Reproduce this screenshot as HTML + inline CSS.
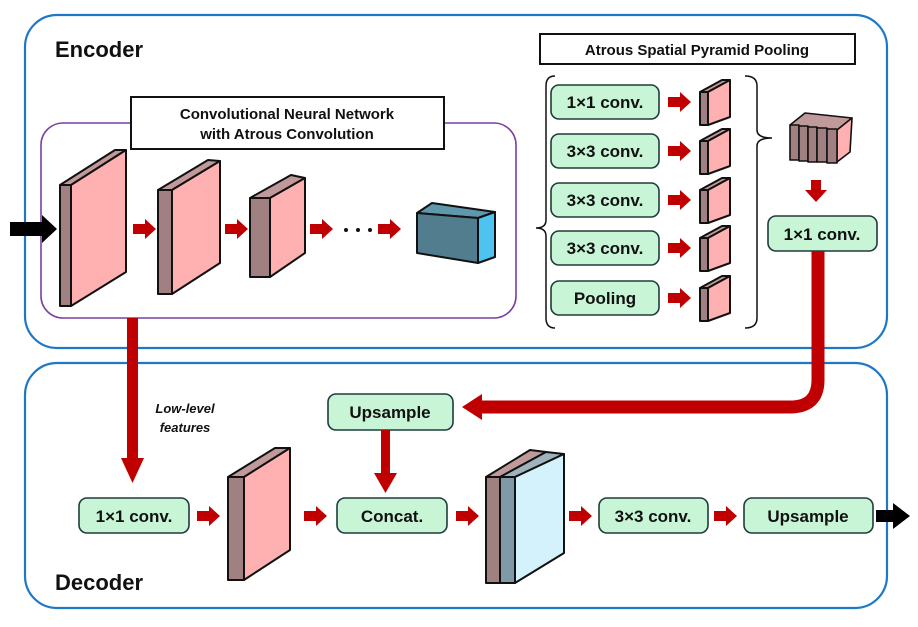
<!DOCTYPE html>
<html><head><meta charset="utf-8"><style>
html,body{margin:0;padding:0;background:#fff;}
svg{display:block;}
text{font-family:"Liberation Sans",sans-serif;font-weight:bold;fill:#111;}
</style></head><body>
<svg width="918" height="627" viewBox="0 0 918 627" xmlns="http://www.w3.org/2000/svg">
<defs>
<g id="ra"><polygon points="0,-5 12,-5 12,-10 23,0 12,10 12,5 0,5" fill="#c00000"/></g>
<g id="da"><polygon points="-5,0 5,0 5,10 11,10 0,22 -11,10 -5,10" fill="#c00000"/></g>
<g id="sm" stroke="#111" stroke-width="2" stroke-linejoin="round">
<polygon points="0,12 8,12 8,45 0,45" fill="#a08080"/>
<polygon points="0,12 22,0 30,0 8,12" fill="#c09a9a"/>
<polygon points="8,12 30,0 30,37 8,45" fill="#ffb0b0"/>
</g>
</defs>
<rect x="25" y="15" width="862" height="333" rx="32" fill="none" stroke="#1e78c8" stroke-width="2.2"/>
<rect x="25" y="363" width="862" height="245" rx="32" fill="none" stroke="#1e78c8" stroke-width="2.2"/>
<text x="55" y="57" font-size="22">Encoder</text>
<text x="55" y="590" font-size="22">Decoder</text>

<rect x="41" y="123" width="475" height="195" rx="22" fill="none" stroke="#7a3fa0" stroke-width="1.6"/>
<rect x="131" y="97" width="313" height="52" fill="#fff" stroke="#111" stroke-width="2"/>
<text x="287" y="119" font-size="15" text-anchor="middle">Convolutional Neural Network</text>
<text x="287" y="139" font-size="15" text-anchor="middle">with Atrous Convolution</text>

<g stroke="#111" stroke-width="2" stroke-linejoin="round">
<polygon points="60,185 71,185 71,306 60,306" fill="#a08080"/>
<polygon points="60,185 115,150 126,150 71,185" fill="#c09a9a"/>
<polygon points="71,185 126,150 126,272 71,306" fill="#ffb0b0"/>
<polygon points="158,190 172,190 172,294 158,294" fill="#a08080"/>
<polygon points="158,190 208,160 220,161 172,190" fill="#c09a9a"/>
<polygon points="172,190 220,161 220,263 172,294" fill="#ffb0b0"/>
<polygon points="250,198 270,198 270,277 250,277" fill="#a08080"/>
<polygon points="250,198 291,175 305,178 270,198" fill="#c09a9a"/>
<polygon points="270,198 305,178 305,253 270,277" fill="#ffb0b0"/>
<polygon points="417,213 432,203 495,212 478,218" fill="#5f97ad"/>
<polygon points="417,213 478,218 478,263 417,253" fill="#527d8f"/>
<polygon points="478,218 495,212 495,257 478,263" fill="#4fc3f0"/>
</g>
<polygon points="10,222 42,222 42,215 57,229 42,243 42,236 10,236" fill="#000"/>
<use href="#ra" x="133" y="229"/><use href="#ra" x="225" y="229"/><use href="#ra" x="310" y="229"/><use href="#ra" x="378" y="229"/>
<circle cx="346" cy="230" r="2" fill="#111"/><circle cx="358" cy="230" r="2" fill="#111"/><circle cx="370" cy="230" r="2" fill="#111"/>

<rect x="540" y="34" width="315" height="30" fill="#fff" stroke="#111" stroke-width="2"/>
<text x="697" y="55" font-size="15" text-anchor="middle">Atrous Spatial Pyramid Pooling</text>
<path d="M555,76 Q546,76 546,86 L546,220 Q546,228 536,228 Q546,228 546,236 L546,318 Q546,328 555,328" fill="none" stroke="#111" stroke-width="1.5"/>
<path d="M745,76 Q757,76 757,86 L757,130 Q757,138 772,138 Q757,138 757,146 L757,318 Q757,328 745,328" fill="none" stroke="#111" stroke-width="1.5"/>
<g stroke="#1f3b3b" stroke-width="1.6" fill="#c8f5d6">
<rect x="551" y="85" width="108" height="34" rx="8"/>
<rect x="551" y="134" width="108" height="34" rx="8"/>
<rect x="551" y="183" width="108" height="34" rx="8"/>
<rect x="551" y="231" width="108" height="34" rx="8"/>
<rect x="551" y="281" width="108" height="34" rx="8"/>
<rect x="768" y="216" width="109" height="35" rx="8"/>
<rect x="328" y="394" width="125" height="36" rx="8"/>
<rect x="79" y="498" width="110" height="35" rx="8"/>
<rect x="337" y="498" width="110" height="35" rx="8"/>
<rect x="599" y="498" width="109" height="35" rx="8"/>
<rect x="744" y="498" width="129" height="35" rx="8"/>
</g>
<g font-size="17" text-anchor="middle">
<text x="605" y="108">1×1 conv.</text>
<text x="605" y="157">3×3 conv.</text>
<text x="605" y="206">3×3 conv.</text>
<text x="605" y="254">3×3 conv.</text>
<text x="605" y="304">Pooling</text>
<text x="822" y="240">1×1 conv.</text>
<text x="390" y="418">Upsample</text>
<text x="134" y="522">1×1 conv.</text>
<text x="392" y="522">Concat.</text>
<text x="653" y="522">3×3 conv.</text>
<text x="808" y="522">Upsample</text>
</g>
<use href="#ra" x="668" y="102"/><use href="#ra" x="668" y="151"/><use href="#ra" x="668" y="200"/><use href="#ra" x="668" y="248"/><use href="#ra" x="668" y="298"/>
<use href="#sm" x="700" y="80"/><use href="#sm" x="700" y="129"/><use href="#sm" x="700" y="178"/><use href="#sm" x="700" y="226"/><use href="#sm" x="700" y="276"/>
<g stroke="#111" stroke-width="1.6" stroke-linejoin="round">
<polygon points="790,125 805,113 852,118 837,130" fill="#c09a9a"/>
<polygon points="837,130 852,118 850,152 837,162" fill="#ffb0b0"/>
<rect x="790" y="125" width="9" height="35" fill="#a08080"/>
<rect x="799" y="126" width="9" height="35" fill="#a08080"/>
<rect x="808" y="127" width="9" height="35" fill="#a08080"/>
<rect x="817" y="128" width="10" height="34" fill="#a08080"/>
<rect x="827" y="129" width="10" height="34" fill="#a08080"/>
</g>
<use href="#da" x="816" y="180"/>

<path d="M818,251 L818,380 Q818,407 790,407 L478,407" fill="none" stroke="#c00000" stroke-width="13"/>
<polygon points="462,407 482,394 482,420" fill="#c00000"/>
<rect x="127" y="318" width="11" height="142" fill="#c00000"/>
<polygon points="121,458 144,458 132.5,483" fill="#c00000"/>
<text x="185" y="413" font-size="13" font-style="italic" text-anchor="middle">Low-level</text>
<text x="185" y="432" font-size="13" font-style="italic" text-anchor="middle">features</text>
<rect x="381" y="430" width="9" height="45" fill="#c00000"/>
<polygon points="374,473 397,473 385.5,493" fill="#c00000"/>

<use href="#ra" x="197" y="516"/><use href="#ra" x="304" y="516"/><use href="#ra" x="456" y="516"/><use href="#ra" x="569" y="516"/><use href="#ra" x="714" y="516"/>
<polygon points="876,510 893,510 893,503 910,516 893,529 893,522 876,522" fill="#000"/>
<g stroke="#111" stroke-width="2" stroke-linejoin="round">
<polygon points="228,477 244,477 244,580 228,580" fill="#a08080"/>
<polygon points="228,477 275,448 290,448 244,477" fill="#c09a9a"/>
<polygon points="244,477 290,448 290,550 244,580" fill="#ffb0b0"/>
<polygon points="486,477 500,477 500,583 486,583" fill="#a08080"/>
<polygon points="486,477 530,450 546,452 500,477" fill="#c09a9a"/>
<polygon points="500,477 515,477 515,583 500,583" fill="#7f9aa6"/>
<polygon points="500,477 546,452 564,454 515,477" fill="#9fb3bd"/>
<polygon points="515,477 564,454 564,553 515,583" fill="#d4f2fc"/>
</g>
</svg>
</body></html>
